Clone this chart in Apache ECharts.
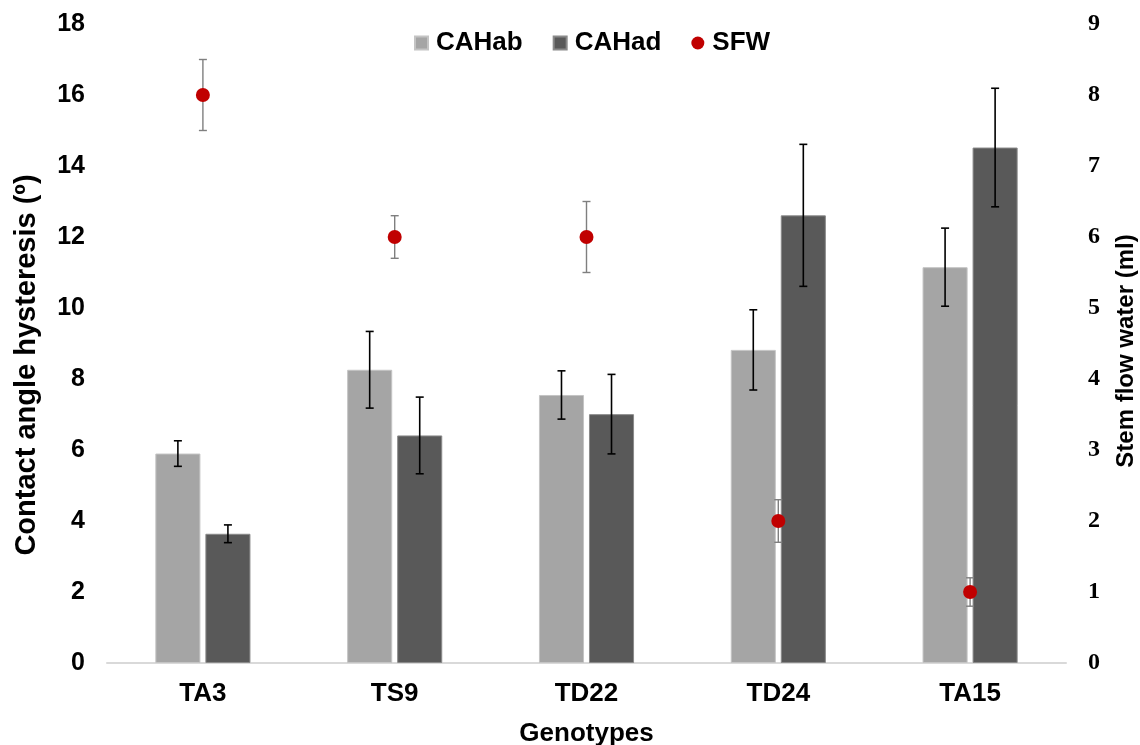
<!DOCTYPE html>
<html>
<head>
<meta charset="utf-8">
<script src="https://cdn.jsdelivr.net/npm/echarts@6/dist/echarts.min.js"></script>
<style>
  html, body { margin: 0; padding: 0; background: #fff; }
  #main { width: 1140px; height: 745px; }
</style>
</head>
<body>
<div id="main"></div>
<script>
var categories = ['TA3', 'TS9', 'TD22', 'TD24', 'TA15'];
var cahab = [5.9, 8.26, 7.55, 8.82, 11.15];
var cahabErr = [0.36, 1.08, 0.68, 1.13, 1.1];
var cahad = [3.64, 6.41, 7.01, 12.61, 14.52];
var cahadErr = [0.25, 1.08, 1.12, 2.0, 1.67];
var sfw = [8, 6, 6, 2, 1];
var sfwErr = [0.5, 0.3, 0.5, 0.3, 0.2];

var BAR_FRAC = 0.235;
var GAP_FRAC = 0.11;

function errData(vals, errs) {
  return vals.map(function (v, i) { return [i, v - errs[i], v + errs[i]]; });
}

// draws an error bar; side = -1 left bar, 1 right bar, 0 category centre
function errRender(side, color, width) {
  return function (params, api) {
    var x = api.value(0);
    var lo = api.coord([x, api.value(1)]);
    var hi = api.coord([x, api.value(2)]);
    var band = api.size([1, 0])[0];
    var bw = band * BAR_FRAC;
    var cx = lo[0] + side * bw * (1 + GAP_FRAC) / 2;
    var cap = 4;
    var st = { stroke: color, lineWidth: width };
    return {
      type: 'group',
      children: [
        { type: 'line', shape: { x1: cx, y1: hi[1], x2: cx, y2: lo[1] }, style: st },
        { type: 'line', shape: { x1: cx - cap, y1: hi[1], x2: cx + cap, y2: hi[1] }, style: st },
        { type: 'line', shape: { x1: cx - cap, y1: lo[1], x2: cx + cap, y2: lo[1] }, style: st }
      ]
    };
  };
}

var myChart = echarts.init(document.getElementById('main'));

var option = {
  backgroundColor: '#ffffff',
  animation: false,
  textStyle: { fontFamily: 'Liberation Sans, Arial, sans-serif' },
  legend: {
    top: 25,
    left: 409,
    itemGap: 30,
    itemWidth: 13,
    itemHeight: 13,
    textStyle: { fontSize: 26, fontWeight: 'bold', color: '#000', padding: [0, 0, 0, 3] },
    data: [
      { name: 'CAHab', icon: 'rect' },
      { name: 'CAHad', icon: 'rect' },
      { name: 'SFW', icon: 'circle' }
    ]
  },
  // axis titles placed as in the original figure
  graphic: [
    {
      type: 'text', x: 27, y: 365, rotation: Math.PI / 2,
      style: {
        text: 'Contact angle hysteresis (º)', align: 'center', verticalAlign: 'middle',
        font: 'bold 29px Liberation Sans, Arial, sans-serif', fill: '#000'
      }
    },
    {
      type: 'text', x: 1126, y: 351, rotation: Math.PI / 2,
      style: {
        text: 'Stem flow water (ml)', align: 'center', verticalAlign: 'middle',
        font: 'bold 24px Liberation Sans, Arial, sans-serif', fill: '#000'
      }
    }
  ],
  grid: { left: 107, right: 74, top: 24, bottom: 82, outerBoundsMode: 'none' },
  xAxis: {
    type: 'category',
    data: categories,
    name: 'Genotypes',
    nameLocation: 'middle',
    nameGap: 58,
    nameTextStyle: { fontSize: 26, fontWeight: 'bold', color: '#000' },
    axisLine: { lineStyle: { color: '#d9d9d9', width: 2 } },
    axisTick: { show: false },
    axisLabel: { fontSize: 26, fontWeight: 'bold', color: '#000', margin: 18 }
  },
  yAxis: [
    {
      type: 'value',
      min: 0, max: 18, interval: 2,
      splitLine: { show: false },
      axisLine: { show: false },
      axisTick: { show: false },
      axisLabel: { fontSize: 25, fontWeight: 'bold', color: '#000', margin: 22 }
    },
    {
      type: 'value',
      min: 0, max: 9, interval: 1,
      splitLine: { show: false },
      axisLine: { show: false },
      axisTick: { show: false },
      axisLabel: { fontSize: 24, fontWeight: 'bold', color: '#000', margin: 22,
                   fontFamily: 'Liberation Serif, Times New Roman, serif' }
    }
  ],
  series: [
    {
      name: 'CAHab', type: 'bar', data: cahab,
      barWidth: (BAR_FRAC * 100) + '%', barGap: (GAP_FRAC * 100) + '%',
      itemStyle: { color: '#a5a5a5', borderColor: '#c4c4c4', borderWidth: 1 }
    },
    {
      name: 'CAHad', type: 'bar', data: cahad,
      barWidth: (BAR_FRAC * 100) + '%', barGap: (GAP_FRAC * 100) + '%',
      itemStyle: { color: '#595959', borderColor: '#8a8a8a', borderWidth: 1 }
    },
    {
      type: 'custom', data: errData(cahab, cahabErr), z: 5,
      renderItem: errRender(-1, '#000', 1.6), silent: true
    },
    {
      type: 'custom', data: errData(cahad, cahadErr), z: 5,
      renderItem: errRender(1, '#000', 1.6), silent: true
    },
    {
      type: 'custom', yAxisIndex: 1, data: errData(sfw, sfwErr), z: 5,
      renderItem: errRender(0, '#7f7f7f', 1.4), silent: true
    },
    {
      name: 'SFW', type: 'scatter', yAxisIndex: 1, data: sfw,
      symbol: 'circle', symbolSize: 14, z: 6,
      itemStyle: { color: '#c00000', opacity: 1 }
    }
  ]
};

myChart.setOption(option);

window.onresize = function () {
  myChart.resize();
};
</script>
</body>
</html>
